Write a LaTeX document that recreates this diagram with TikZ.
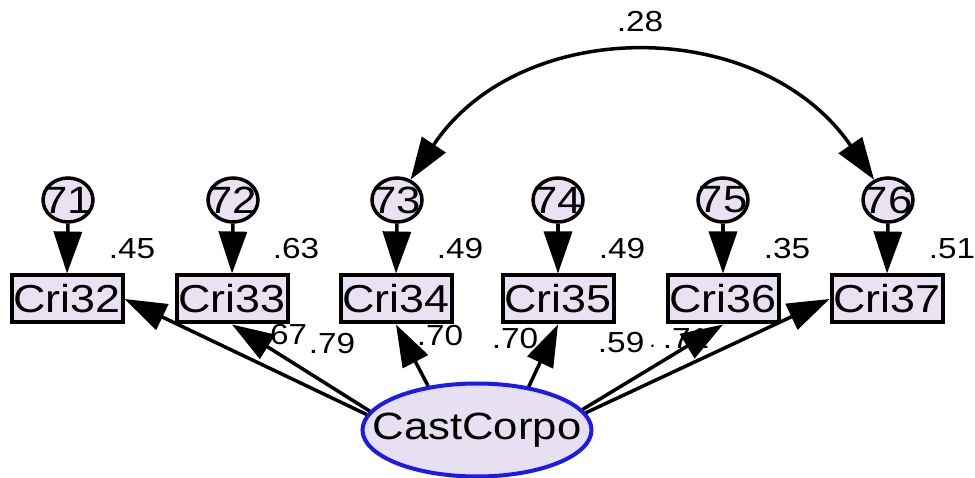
\documentclass[tikz,border=0pt]{standalone}
\usepackage{fontspec}
\setmainfont[FakeStretch=1.15]{Liberation Sans}
\usetikzlibrary{arrows.meta,shapes.geometric}
\definecolor{fillc}{HTML}{EAE2F2}
\definecolor{elc}{HTML}{E6E0F2}
\definecolor{bluec}{HTML}{1A1AF0}
\begin{document}
\begin{tikzpicture}[x=1pt,y=-1pt,
  obs/.style={draw=black, line width=4pt, fill=fillc, minimum width=111pt, minimum height=47pt, inner sep=0pt, font=\fontsize{39}{42}\selectfont},
  err/.style={ellipse, draw=black, line width=3.5pt, fill=fillc, minimum width=50pt, minimum height=44pt, inner sep=0pt},
  errtxt/.style={inner sep=0pt, font=\fontsize{38}{42}\selectfont},
  lat/.style={ellipse, draw=bluec, line width=4pt, fill=elc, minimum width=229pt, minimum height=93pt, inner sep=0pt},
  lattxt/.style={inner sep=0pt, font=\fontsize{38}{42}\selectfont},
  lbl/.style={inner sep=0pt, font=\fontsize{29}{32}\selectfont},
  arr/.style={line width=3.5pt, -{Triangle[length=42pt,width=28pt]}},
  darr/.style={line width=3.5pt, {Triangle[length=42pt,width=28pt]}-{Triangle[length=42pt,width=28pt]}}
]
\useasboundingbox (0,0) rectangle (975,478);

% loading labels (drawn first, arrows overlay them)
\node[lbl] (l67) at (284,335) {.67};
\node[lbl] (l79) at (332,344) {.79};
\node[lbl] (l70a) at (440,336) {.70};
\node[lbl] (l70b) at (515,339) {.70};
\node[lbl] (l59) at (627,343) {.59\,$\cdot$};
\node[lbl] (l71) at (686,339) {.71};

% observed
\node[obs] (c32) at (67,299) {Cri32};
\node[obs] (c33) at (232,299) {Cri33};
\node[obs] (c34) at (396,299) {Cri34};
\node[obs] (c35) at (558,299) {Cri35};
\node[obs] (c36) at (723,299) {Cri36};
\node[obs] (c37) at (887,299) {Cri37};

% errors
\foreach \n/\x in {71/68,72/233,73/397,74/558,75/723,76/888}{
  \node[err] (e\n) at (\x,200) {};
  \node[errtxt] (t\n) at (e\n) {\n};
}

% latent
\node[lat] (cc) at (477,430) {};
\node[lattxt] (cct) at (cc) {CastCorpo};

% error arrows
\foreach \e/\c in {e71/c32,e72/c33,e73/c34,e74/c35,e75/c36,e76/c37}
  \draw[arr] (\e.south) -- (\c.north);

% R2 labels
\node[lbl] (r32) at (132,249) {.45};
\node[lbl] (r33) at (296,249) {.63};
\node[lbl] (r34) at (460,249) {.49};
\node[lbl] (r35) at (622,249) {.49};
\node[lbl] (r36) at (787,249) {.35};
\node[lbl] (r37) at (952,249) {.51};

% loadings
\draw[arr] (cc.172) -- (c32.east);
\draw[arr] (cc.170) -- (c33.south);
\draw[arr] (cc.138) -- (c34.south);
\draw[arr] (cc.40) -- (c35.south);
\draw[arr] (cc.11) -- (c36.south);
\draw[arr] (cc.9) -- (c37.west);

% covariance
\draw[darr] (e73) .. controls (520,15) and (761,15) .. (e76);
\node[lbl] (cov) at (640,22) {.28};
\end{tikzpicture}
\end{document}
